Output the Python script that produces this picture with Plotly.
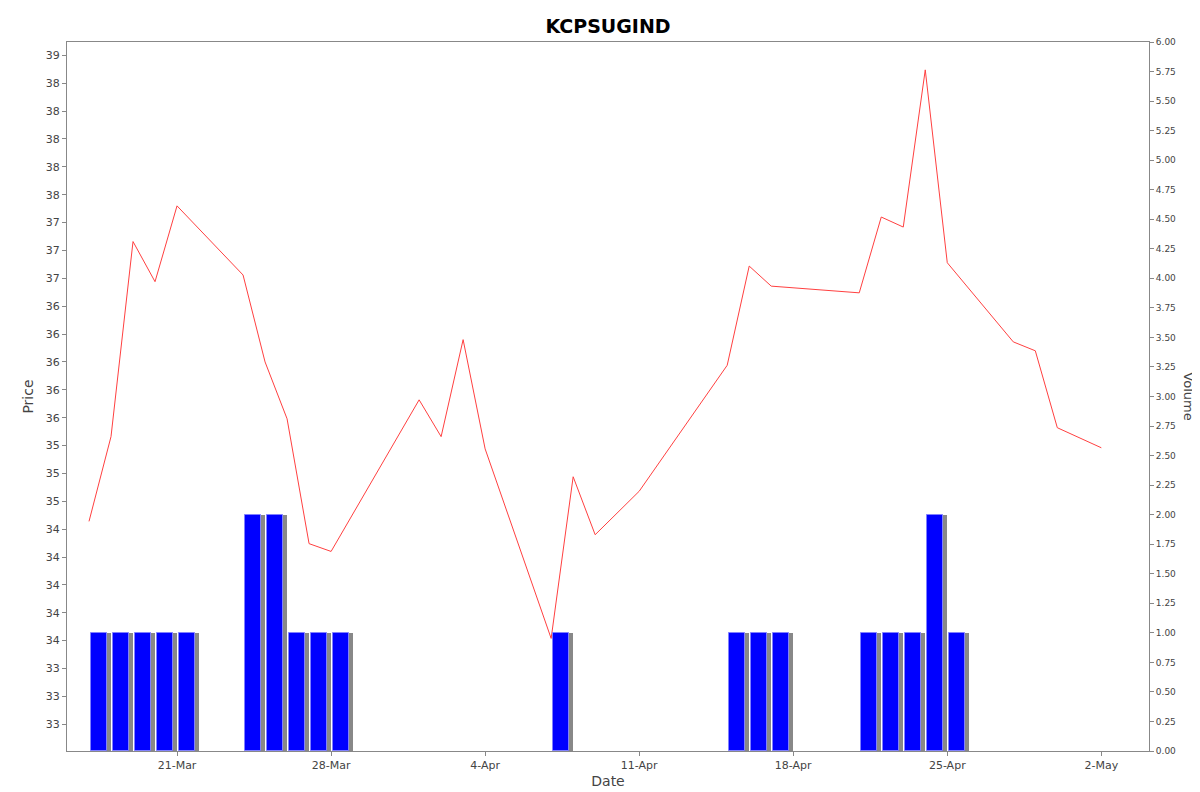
import plotly.graph_objects as go
import pandas as pd

price_dates = ["2025-03-17","2025-03-18","2025-03-19","2025-03-20","2025-03-21","2025-03-24","2025-03-25",
               "2025-03-26","2025-03-27","2025-03-28","2025-04-01","2025-04-02","2025-04-03","2025-04-04",
               "2025-04-07","2025-04-08","2025-04-09","2025-04-11","2025-04-15","2025-04-16","2025-04-17",
               "2025-04-21","2025-04-22","2025-04-23","2025-04-24","2025-04-25","2025-04-28","2025-04-29",
               "2025-04-30","2025-05-02"]
prices = [34.57,35.33,37.08,36.72,37.40,36.78,36.00,35.49,34.37,34.30,35.66,35.33,36.20,35.22,
          33.52,34.97,34.45,34.84,35.97,36.86,36.68,36.62,37.30,37.21,38.62,36.89,36.18,36.10,35.41,35.23]
vol_dates = ["2025-03-17","2025-03-18","2025-03-19","2025-03-20","2025-03-21","2025-03-24","2025-03-25",
             "2025-03-26","2025-03-27","2025-03-28","2025-04-07","2025-04-15","2025-04-16","2025-04-17",
             "2025-04-21","2025-04-22","2025-04-23","2025-04-24","2025-04-25"]
volumes = [1,1,1,1,1,2,2,1,1,1,1,1,1,1,1,1,1,2,1]

price_ticks = [32.75 + 0.25*i for i in range(25)]
price_labels = [str(round(v)) for v in price_ticks]
vol_ticks = [0.25*i for i in range(25)]
vol_labels = ["%.2f" % v for v in vol_ticks]

vd = pd.to_datetime(vol_dates)
day = 86400000
fig = go.Figure()
fig.add_trace(go.Bar(x=vd + pd.Timedelta(hours=15), y=volumes, yaxis="y2", width=0.72*day,
                     marker=dict(color="#888888", line=dict(width=0)), showlegend=False))
fig.add_trace(go.Bar(x=vd + pd.Timedelta(hours=11), y=volumes, yaxis="y2", width=0.72*day,
                     marker=dict(color="#0000ff", line=dict(color="#8080ff", width=1)), showlegend=False))
fig.add_trace(go.Scatter(x=pd.to_datetime(price_dates), y=prices, mode="lines",
                         line=dict(color="#ff4040", width=1), showlegend=False))

fig.update_layout(
    width=1200, height=792, barmode="overlay", bargap=0,
    paper_bgcolor="white", plot_bgcolor="white",
    margin=dict(l=59, r=59, t=34, b=49),
    font=dict(family="DejaVu Sans", size=11, color="#444444"),
    title=dict(text="<b>KCPSUGIND</b>", x=0.5, y=0.985, xanchor="center",
               font=dict(size=19, color="black")),
    xaxis=dict(type="date", range=["2025-03-16 00:00", "2025-05-04 04:00"],
               tickvals=["2025-03-21","2025-03-28","2025-04-04","2025-04-11","2025-04-18","2025-04-25","2025-05-02"],
               ticktext=["21-Mar","28-Mar","4-Apr","11-Apr","18-Apr","25-Apr","2-May"],
               showgrid=False, showline=True, linecolor="#888888", mirror=True, ticks="outside",
               ticklen=4, tickcolor="#888888",
               title=dict(text="Date", font=dict(size=14, color="#444444"), standoff=4)),
    yaxis=dict(range=[32.51, 38.87], tickvals=price_ticks, ticktext=price_labels,
               showgrid=False, showline=True, linecolor="#888888", mirror=True, ticks="outside",
               ticklen=4, tickcolor="#888888", zeroline=False,
               title=dict(text="Price", font=dict(size=14, color="#444444"), standoff=8)),
    yaxis2=dict(range=[0, 6], overlaying="y", side="right", tickvals=vol_ticks, ticktext=vol_labels,
                showgrid=False, ticks="outside", ticklen=4, tickcolor="#888888", zeroline=False,
                tickfont=dict(size=9, color="#444444")),
    annotations=[dict(text="Volume", textangle=90, xref="paper", yref="paper", x=1.045, y=0.5,
                      showarrow=False, font=dict(size=13, color="#444444"))],
)
fig.write_html("out.html")
